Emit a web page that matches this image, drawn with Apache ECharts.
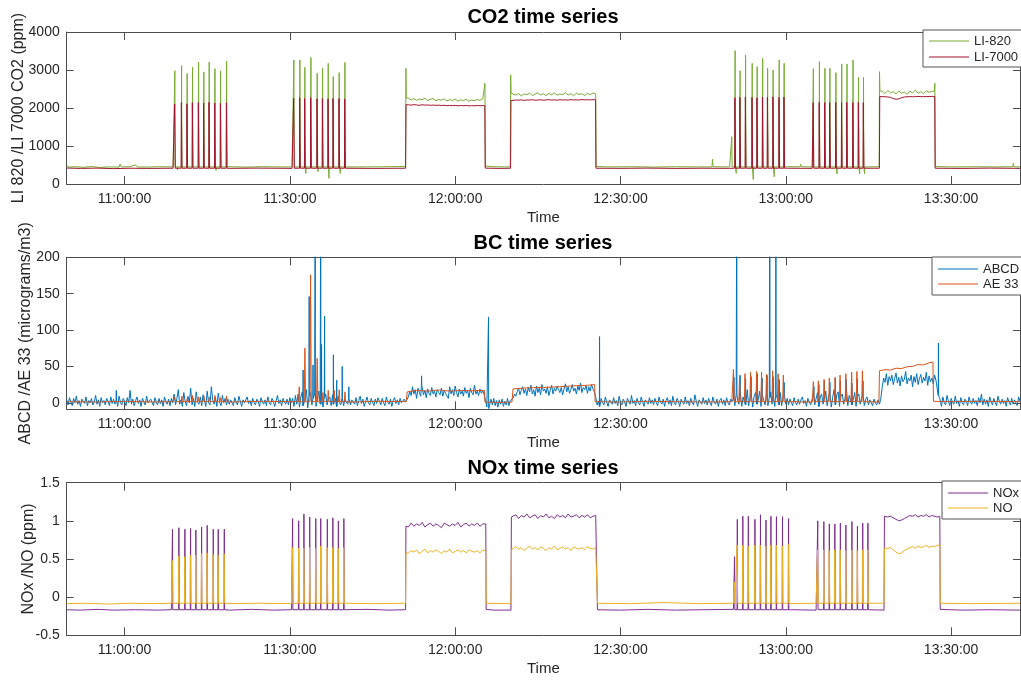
<!DOCTYPE html>
<html><head><meta charset="utf-8">
<script src="https://cdn.jsdelivr.net/npm/echarts@6/dist/echarts.min.js"></script>
<style>html,body{margin:0;padding:0;background:#fff}#c{width:1021px;height:681px}</style>
</head><body><div id="c"></div>
<script>
// ---------------- DATA (time = minutes since midnight) ----------------
const timeTicks = [660, 690, 720, 750, 780, 810];
const co2Ticks = [0, 1000, 2000, 3000, 4000];
const bcTicks = [0, 50, 100, 150, 200];
const noxTicks = [-0.5, 0, 0.5, 1, 1.5];

// CO2 -- LI-820 (green) baseline & small bumps
const li820Base = [[649.5,480],[650,445],[651,455],[652.5,440],[654,460],[655.5,435],[657,450],[659,445],[659.2,525],[659.4,450],[661,455],[662,505],[662.3,450],[664,445],[666,455],[668.8,450],[679,455],[682,445],[685,455],[688,450],[690.4,450],[700.4,455],[704,450],[707,455],[711,460],
  [711.06,3045],[711.12,2260],[725.3,2230],[725.4,2650],[725.47,470],[727,455],[729,450],[730,455],[730.07,2870],[730.14,2390],[745.5,2370],[745.56,460],
  [748,450],[752,455],[756,445],[760,455],[764,450],[766.6,450],[766.7,650],[766.8,455],[769.8,450],[780.3,455],[782.6,455],[782.7,520],[782.8,455],[784.8,450],[794.5,455],[796.95,455],
  [797.0,2956],[797.08,2450],[806.95,2440],[807.05,2650],[807.12,460],[810,450],[814,455],[818,450],[821.2,455],[821.3,550],[821.4,455],[822.5,450]];
const li820Block1 = [2260,2210,2250,2200,2240,2215,2260,2195,2230,2250,2190,2225,2205,2240,2185,2220,2200,2235,2180,2215,2195,2230,2175,2210,2190,2225,2200,2240];
const li820Block2 = [2400,2340,2380,2320,2370,2350,2390,2330,2360,2400,2340,2375,2325,2385,2345,2395,2335,2370,2350,2405,2340,2380,2320,2390,2355,2375,2330,2385,2350,2395];
const li820Block3 = [2440,2380,2460,2400,2430,2370,2450,2390,2420,2360,2440,2400,2470,2390,2430,2380,2450,2410,2440];
const li820Dips = [[669.6,370],[676.6,360],[692.9,280],[695.1,325],[697.1,150],[699.15,280],[771.0,280],[774.1,120],[777.9,190],[789.3,265],[793.4,265],[794.3,265]];
const li820Small = [[770.2,1245]];
const li820Foot = 450;

// CO2 -- LI-7000 (dark red)
const li7000Base = [[649.5,420],[652,410],[655,418],[658,405],[661,415],[664,410],[668.8,415],[679,412],[684,418],[690.4,412],[700.4,415],[705,410],[711,415],
  [711.08,2085],[725.38,2062],[725.45,418],[728,410],[730.05,415],[730.12,2200],[745.48,2218],[745.55,415],
  [750,412],[755,418],[760,410],[765,415],[769.8,412],[780.3,415],[784.8,412],[794.5,415],[796.98,415],
  [797.05,2300],[807.03,2305],[807.1,415],[812,410],[817,418],[822.5,412]];
const li7000Block1 = [2085,2075,2090,2080,2070,2085,2075,2080,2070,2078,2068,2075,2065,2072,2060,2070,2062,2068,2058,2065,2060,2068,2055,2062,2058,2065,2060,2063];
const li7000Block2 = [2200,2210,2205,2215,2200,2212,2208,2218,2205,2210,2215,2205,2212,2220,2208,2214,2206,2218,2210,2215,2208,2220,2212,2216,2210,2222,2214,2218,2212,2220];
const li7000Block3 = [2300,2295,2290,2280,2250,2230,2240,2270,2290,2295,2300,2295,2300,2305,2300,2298,2302,2300,2305];
const li7000Foot = 415;

// CO2 injection spikes (4 groups of 10)
const co2SpikeTimes = [
  [669.13,670.35,671.36,672.34,673.43,674.39,675.36,676.40,677.43,678.52],
  [690.73,691.82,692.72,693.82,694.96,695.94,696.96,697.87,698.95,699.99],
  [770.8,771.7,772.7,773.9,774.8,775.8,776.7,777.7,778.8,779.7],
  [785.0,786.1,787.1,788.0,789.1,790.15,791.1,792.2,793.2,794.1]];
const li820Peaks = [
  [2980,3120,2910,3070,3210,2950,3210,3035,2975,3235],
  [3265,3265,3070,3330,2910,3045,3175,2825,2930,3200],
  [3510,2980,3395,3175,3090,3305,3045,3000,3265,3175],
  [3035,3220,3045,3045,2930,3160,3160,3265,2805,2805]];
const li7000Peaks = [
  [2105,2140,2110,2140,2140,2130,2150,2130,2120,2140],
  [2260,2270,2250,2270,2240,2250,2240,2250,2250,2240],
  [2270,2280,2290,2280,2270,2290,2280,2290,2280,2290],
  [2140,2150,2140,2140,2150,2140,2150,2140,2150,2140]];

// BC -- ABCD (blue), sampled every 0.25 min, by segment
const abcdPre = [4,-3,7,1,-4,6,0,9,-2,3,-5,5,2,-1,8,-4,3,0,6,-3,
  1,10,-2,4,-5,7,0,3,-3,6,2,-4,8,-1,5,-2,4,-5,9,1,
  -3,6,2,-4,7,0,17,-2,5,-4,3,8,-1,4,-5,6,1,-3,9,0,
  -2,5,3,-4,7,1,-3,6,-1,4,-5,8,2,-2,5,-4,6,0];
const abcdG1 = [12,-3,6,18,-2,4,-5,14,2,-4,9,0,20,-3,6,-5,15,1,-2,8,
  -4,11,3,-5,16,0,-3,22,4,-2,7,-5,13,1,-4,10,0,6,-3,5,-2,4];
const abcdMid1 = [5,-4,7,1,-3,9,2,-5,4,0,-2,8,-1,3,-4,6,0,-3,5,2,
  -5,7,1,-2,4,-4,8,0,-3,6,2,-5,3,10,-1,4,-4,6,1,-2,5,-3,7,0];
const abcdG2 = [6,-5,10,-2,12,-6,8,15,-4,5,18,-7,9,14,-3,6,12,-5,4,16,
  -2,10,-6,7,12,-3,5,8,-4,11,-2,6,-5,9,0,-3,7,-4,5,1,-2,6,-3,4];
const abcdMid2 = [4,-2,7,-4,3,9,-1,5,-5,2,8,0,-3,6,1,-4,5,-1,7,2,
  -3,6,0,-4,8,1,-2,5,-5,3,7,-1,4,-3,6,0,-2,5,1,3];
const abcdBlock1 = [8,16,10,22,12,18,6,20,14,9,24,11,17,7,19,13,10,21,12,16,
  8,18,14,11,20,9,17,13,15,6,22,12,18,10,23,14,8,19,12,16,
  9,21,13,17,7,20,14,11,24,12,16,10,19,13,17,11];
const abcdGap1 = [4,-6,-8,-9,5,-3,6,-4,3,-6,4,-2,5,-5,2,-3,6,-4,3,1];
const abcdBlock2 = [6,12,9,15,20,11,17,22,13,19,10,21,15,24,12,18,9,23,14,20,
  11,25,16,19,13,22,10,17,24,12,20,16,23,18,14,21,11,19,26,15,
  22,13,18,25,16,20,12,23,17,27,14,21,18,24,13,22,16,25,19,15];
const abcdMid3 = [8,-3,2,-5,6,0,-3,8,1,-5,4,2,-2,7,-1,3,-4,9,0,-3,
  5,1,-5,6,2,-2,10,-1,3,-4,6,0,-3,8,2,-5,4,1,-2,7,
  -1,4,-3,6,0,-4,8,1,-2,5,-5,3,7,-2,4,-4,9,0,-3,6,
  2,-5,5,1,-2,8,-1,3,-4,6,0,-3,11,2,-5,4,1,-2,7,-1,
  4,-3,6,0,-4,8,1,-2,5,-5,3,6,-2,4,-4,7,0,-3,5,2];
const abcdG3 = [5,-4,12,3,-2,15,-5,8,10,-3,18,-4,6,12,-6,9,14,-2,5,16,
  -5,11,3,-3,13,-4,7,15,-2,10,-5,12,4,-3,14,-4,8,11,-2,6,-3,5];
const abcdMid4 = [3,-4,7,0,-3,5,-2,4,8,-1,3,-5,6,1,-3,4];
const abcdG4 = [10,-3,6,14,-5,8,12,-2,5,16,-4,9,13,-6,7,18,-3,11,15,-5,
  8,12,-2,6,17,-4,10,11,-3,5,14,-5,9,12,-2,6,10,-4,5,8,-3,4];
const abcdMid5 = [2,-4,5,0,-3,4,-2,6];
const abcdBlock3 = [22,34,28,40,24,36,30,38,25,33,41,27,35,23,37,29,32,43,26,34,
  30,38,22,36,28,40,25,33,39,27,35,30,42,24,37,29,34,26,38,31,33];
const abcdPost = [10,4,-5,8,0,-3,10,2,-4,6,1,-2,9,-1,3,-5,7,0,-3,5,
  2,-4,8,1,-2,6,-1,3,-4,7,0,12,-3,5,-2,4,-5,8,1,-3,
  6,0,-4,9,2,-2,5,-1,3,-5,7,1,-3,6,-2,4,0,-4,8,2];
const abcdSegStarts = [649.5,669,679.5,690.5,701.5,711.5,725.5,730.5,745.5,770.5,781,785,795.5,797.5,807.75];
const abcdSpikes = [[658.5,17],[692.4,45],[693.5,146],[694.2,52],[694.6,330],[695.6,330],[695.75,80],[696.3,119],[697.9,66],[698.5,31],[699.5,50],[700.7,22],
  [713.9,37],[726.05,118],[746.2,91],
  [770.6,35],[771.1,330],[771.7,38],[772.7,33],[773.7,36],[774.8,40],[775.7,34],[776.6,38],[777.1,330],[777.7,36],[778.2,330],[778.8,32],[779.7,28],
  [785.1,22],[786.0,25],[787.0,30],[788.0,28],[789.0,34],[789.9,30],[791.0,32],[792.0,27],[793.0,33],[794.0,30],[807.7,82]];

// BC -- AE 33 (orange)
const ae33Base = [[649.5,1.5],[655,1],[660,2],[665,1],[668.8,1.5],[679,1],[685,2],[690,1.5],[701,1],[706,2],[711.1,1.5],
  [711.3,15],[713,17],[715,16],[717,17.5],[719,16],[721,17],[723,16.5],[725.3,17],[725.4,1],[728,0.5],[730.3,1],
  [730.5,19],[733,20.5],[736,21],[739,22],[742,23.5],[744,24],[745.3,25],[745.4,1.5],
  [750,1],[755,2],[760,1.5],[765,1],[770.2,1.5],[781,1.5],[784.8,1],[795,1.5],[796.9,1],
  [797.0,44],[798,45.5],[799,45],[800,47.5],[801,47],[802,49.5],[803,50],[804,52.5],[805,52],[806,55],[806.7,56],[806.8,2],
  [810,1.5],[815,2],[822.5,1.5]];
const ae33Spikes = [[669.1,8],[670.4,9],[671.4,7],[672.3,10],[673.4,8],[674.4,9],[675.4,8],[676.4,10],[677.4,7],[678.5,9],
  [691.7,22],[692.73,75],[693.76,176],[694.96,61],[696.0,14],[696.96,17],[698.05,17],[698.96,18],[700.0,15],
  [770.5,46],[771.6,36],[772.6,40],[773.6,42],[774.7,43],[775.6,42],[776.5,39],[777.6,44],[778.6,40],[779.55,38],
  [785.0,29],[785.9,30],[786.95,32],[787.9,34],[788.95,35],[789.85,38],[790.9,40],[791.95,42],[792.9,43],[793.9,44]];
const ae33Foot = 1.5;

// NOx (purple)
const noxBase = [[649.5,-0.165],[652,-0.17],[655,-0.16],[658,-0.17],[662,-0.165],[666,-0.17],[668.5,-0.165],[679,-0.17],[683,-0.16],[687,-0.17],[690.3,-0.165],[700.2,-0.17],[704,-0.16],[708,-0.17],[711.0,-0.165],
  [711.06,0.93],[725.55,0.96],[725.62,-0.16],[727,-0.17],[730.12,-0.17],[730.2,1.05],[745.75,1.07],[745.82,-0.165],
  [750,-0.17],[755,-0.16],[760,-0.17],[765,-0.165],[770.5,-0.16],[781,-0.165],[785.5,-0.17],[795.3,-0.165],[797.82,-0.17],
  [797.9,1.06],[807.95,1.06],[808.02,-0.16],[812,-0.17],[817,-0.165],[822.5,-0.17]];
const noxBlock1 = [0.92,0.97,0.93,0.96,0.94,0.98,0.92,0.95,0.97,0.93,0.96,0.94,0.91,0.97,0.95,0.93,0.96,0.94,0.98,0.92,0.95,0.97,0.93,0.96,0.94,0.97,0.93,0.96];
const noxBlock2 = [1.04,1.08,1.03,1.07,1.05,1.09,1.04,1.06,1.08,1.03,1.07,1.05,1.09,1.04,1.06,1.03,1.08,1.05,1.07,1.04,1.09,1.05,1.06,1.08,1.04,1.07,1.05,1.08,1.04,1.06,1.07];
const noxBlock3 = [1.07,1.05,1.06,1.04,1.02,1.00,1.01,1.03,1.05,1.07,1.06,1.08,1.05,1.07,1.06,1.08,1.05,1.07,1.06,1.05];
const noxFoot = -0.165;

// NO (yellow)
const noBase = [[649.5,-0.085],[653,-0.08],[657,-0.09],[661,-0.08],[665,-0.085],[668.5,-0.08],[679,-0.085],[684,-0.08],[690.3,-0.085],[700.2,-0.08],[705,-0.085],[711.0,-0.08],
  [711.06,0.58],[725.55,0.60],[725.62,-0.08],[730.12,-0.085],[730.2,0.62],[745.75,0.64],[745.82,-0.08],
  [752,-0.085],[758,-0.07],[764,-0.085],[770.5,-0.08],[781,-0.085],[785.5,-0.08],[795.3,-0.085],[797.82,-0.08],
  [797.9,0.64],[807.95,0.68],[808.02,-0.08],[814,-0.085],[822.5,-0.08]];
const noBlock1 = [0.58,0.61,0.59,0.62,0.57,0.60,0.63,0.58,0.61,0.59,0.62,0.60,0.57,0.61,0.59,0.63,0.58,0.60,0.62,0.59,0.61,0.58,0.62,0.60,0.59,0.61,0.58,0.62];
const noBlock2 = [0.62,0.66,0.63,0.65,0.61,0.64,0.67,0.63,0.65,0.62,0.66,0.64,0.61,0.65,0.63,0.67,0.62,0.64,0.66,0.63,0.65,0.61,0.66,0.64,0.63,0.65,0.62,0.66,0.64,0.63,0.65];
const noBlock3 = [0.66,0.64,0.65,0.62,0.59,0.57,0.58,0.61,0.63,0.65,0.66,0.64,0.67,0.65,0.66,0.68,0.65,0.67,0.66,0.68];
const noFoot = -0.08;

const noxSpikeTimes = [
  [668.7,669.86,670.95,671.98,672.94,673.98,675.0,676.1,677.0,678.1],
  [690.5,691.6,692.55,693.6,694.7,695.6,696.8,697.8,698.8,699.8],
  [770.7,771.2,772.2,773.2,774.4,775.4,776.4,777.3,778.3,779.4,780.5],
  [785.8,786.9,787.9,788.9,789.9,790.9,792.0,793.0,793.96,794.9]];
const noxPeaks = [
  [0.89,0.91,0.89,0.90,0.88,0.92,0.94,0.89,0.89,0.89],
  [1.03,1.00,1.09,1.05,1.03,1.03,1.02,1.04,1.00,1.03],
  [0.53,1.02,1.06,1.06,1.02,1.08,1.01,1.06,1.055,1.055,1.03],
  [1.00,0.99,0.96,0.96,0.97,0.946,0.99,0.93,0.97,0.97]];
const noPeaks = [
  [0.48,0.54,0.53,0.55,0.55,0.57,0.58,0.56,0.55,0.57],
  [0.65,0.64,0.64,0.65,0.64,0.67,0.65,0.65,0.64,0.65],
  [0.20,0.68,0.68,0.67,0.68,0.68,0.67,0.68,0.68,0.67,0.69],
  [0.62,0.62,0.61,0.62,0.62,0.61,0.62,0.61,0.62,0.62]];

// ---------------- BUILDERS ----------------
function seq(t0, step, vals) { return vals.map((v, i) => [+(t0 + i * step).toFixed(3), v]); }
function spikes(pairs, foot, w) { const o = []; pairs.forEach(([t, p]) => { const f = typeof foot === 'function' ? foot(t) : foot; o.push([t - w, f], [t, p], [t + w, f]); }); return o; }
function flatPulses(pairs, foot, w) { const o = []; pairs.forEach(([t, p]) => { o.push([t - w, foot], [t - w / 2, p], [t + w / 2, p], [t + w, foot]); }); return o; }
function zipGroups(times, peaks) { const o = []; times.forEach((g, gi) => g.forEach((t, i) => o.push([t, peaks[gi][i]]))); return o; }
function build(...parts) { return [].concat(...parts).sort((a, b) => a[0] - b[0]); }

const li820Data = build(li820Base, seq(711.5, 0.5, li820Block1), seq(730.5, 0.5, li820Block2), seq(797.5, 0.5, li820Block3),
  spikes(zipGroups(co2SpikeTimes, li820Peaks), li820Foot, 0.05), spikes(li820Dips, li820Foot, 0.03), spikes(li820Small, li820Foot, 0.05));
const li7000Data = build(li7000Base, seq(711.5, 0.5, li7000Block1), seq(730.5, 0.5, li7000Block2), seq(797.5, 0.5, li7000Block3),
  flatPulses(zipGroups(co2SpikeTimes, li7000Peaks), li7000Foot, 0.08));

const abcdSegs = [abcdPre, abcdG1, abcdMid1, abcdG2, abcdMid2, abcdBlock1, abcdGap1, abcdBlock2, abcdMid3, abcdG3, abcdMid4, abcdG4, abcdMid5, abcdBlock3, abcdPost];
const abcdSamples = build(...abcdSegs.map((s, i) => seq(abcdSegStarts[i], 0.25, s)));
function abcdFootAt(t) { let best = abcdSamples[0]; for (const p of abcdSamples) { if (Math.abs(p[0] - t) < Math.abs(best[0] - t)) best = p; } return best[1]; }
const abcdData = build(abcdSamples, spikes(abcdSpikes, abcdFootAt, 0.03));
const ae33Data = build(ae33Base, spikes(ae33Spikes, ae33Foot, 0.12));

const noxData = build(noxBase, seq(711.5, 0.5, noxBlock1), seq(730.5, 0.5, noxBlock2), seq(798, 0.5, noxBlock3),
  spikes(zipGroups(noxSpikeTimes, noxPeaks), noxFoot, 0.05));
const noData = build(noBase, seq(711.5, 0.5, noBlock1), seq(730.5, 0.5, noBlock2), seq(798, 0.5, noBlock3),
  flatPulses(zipGroups(noxSpikeTimes, noPeaks), noFoot, 0.07));

// ---------------- CHART ----------------
const FONT = "'Liberation Sans', Arial, Helvetica, sans-serif";
const AX = '#4d4d4d', TXT = '#262626';
const X_MIN = 649.5, X_MAX = 822.5;
function clock(v) { const h = Math.floor(v / 60), m = Math.round(v - h * 60); return h + ':' + String(m).padStart(2, '0') + ':00'; }
function plain(v) { return String(v); }

const grids = [
  { left: 66.7, top: 32, width: 953.3, height: 152 },
  { left: 66.7, top: 257.3, width: 953.3, height: 152 },
  { left: 66.7, top: 482.7, width: 953.3, height: 152.6 }
];
const yDefs = [
  { min: 0, max: 4000, ticks: co2Ticks, name: 'LI 820 /LI 7000 CO2 (ppm)', gap: 40 },
  { min: -9, max: 200, ticks: bcTicks, name: 'ABCD /AE 33 (micrograms/m3)', gap: 33 },
  { min: -0.5, max: 1.5, ticks: noxTicks, name: 'NOx /NO (ppm)', gap: 30 }
];
const xAxes = [], yAxes = [];
grids.forEach((g, i) => {
  xAxes.push({ type: 'value', gridIndex: i, min: X_MIN, max: X_MAX, position: 'bottom',
    axisLine: { show: true, onZero: false, lineStyle: { color: AX, width: 1 } },
    axisTick: { show: true, inside: true, length: 8, customValues: timeTicks, lineStyle: { color: AX } },
    axisLabel: { show: true, customValues: timeTicks, formatter: clock, color: TXT, fontSize: 14, fontFamily: FONT, margin: 8 },
    splitLine: { show: false },
    name: 'Time', nameLocation: 'middle', nameGap: 26, nameMoveOverlap: false,
    nameTextStyle: { fontSize: 15, color: TXT, fontFamily: FONT } });
  xAxes.push({ type: 'value', gridIndex: i, min: X_MIN, max: X_MAX, position: 'top',
    axisLine: { show: true, onZero: false, lineStyle: { color: AX, width: 1 } },
    axisTick: { show: true, inside: true, length: 8, customValues: timeTicks, lineStyle: { color: AX } },
    axisLabel: { show: false }, splitLine: { show: false } });
  const d = yDefs[i];
  yAxes.push({ type: 'value', gridIndex: i, min: d.min, max: d.max, position: 'left',
    axisLine: { show: true, onZero: false, lineStyle: { color: AX, width: 1 } },
    axisTick: { show: true, inside: true, length: 7, customValues: d.ticks, lineStyle: { color: AX } },
    axisLabel: { show: true, customValues: d.ticks, formatter: plain, color: TXT, fontSize: 14, fontFamily: FONT, margin: 7 },
    splitLine: { show: false },
    name: d.name, nameLocation: 'middle', nameGap: d.gap, nameMoveOverlap: false,
    nameTextStyle: { fontSize: 16, color: TXT, fontFamily: FONT } });
  yAxes.push({ type: 'value', gridIndex: i, min: d.min, max: d.max, position: 'right',
    axisLine: { show: true, onZero: false, lineStyle: { color: AX, width: 1 } },
    axisTick: { show: true, inside: true, length: 7, customValues: d.ticks, lineStyle: { color: AX } },
    axisLabel: { show: false }, splitLine: { show: false } });
});

function line(name, data, gi, color) {
  return { name, type: 'line', data, xAxisIndex: gi * 2, yAxisIndex: gi * 2, showSymbol: false, symbol: 'none',
    color, itemStyle: { color }, lineStyle: { color, width: 1 }, animation: false, clip: true, silent: true };
}
const legendBase = { orient: 'vertical', icon: 'rect', itemWidth: 40, itemHeight: 1, selectedMode: false,
  itemStyle: { borderWidth: 0 },
  borderColor: '#555', borderWidth: 1, backgroundColor: '#fff', borderRadius: 0,
  textStyle: { fontSize: 13, color: TXT, fontFamily: FONT, lineHeight: 14 } };

const chart = echarts.init(document.getElementById('c'), null, { renderer: 'canvas' });
chart.setOption({
  backgroundColor: '#fff',
  animation: false,
  title: [
    { text: 'CO2 time series', left: 543, top: 7, textAlign: 'center', padding: 0, textStyle: { fontSize: 20, fontWeight: 'bold', color: '#000', fontFamily: FONT } },
    { text: 'BC time series', left: 543, top: 233, textAlign: 'center', padding: 0, textStyle: { fontSize: 20, fontWeight: 'bold', color: '#000', fontFamily: FONT } },
    { text: 'NOx time series', left: 543, top: 458, textAlign: 'center', padding: 0, textStyle: { fontSize: 20, fontWeight: 'bold', color: '#000', fontFamily: FONT } }
  ],
  legend: [
    Object.assign({}, legendBase, { data: ['LI-820', 'LI-7000'], left: 923, top: 30, itemGap: 2, padding: [4, 6, 3, 6] }),
    Object.assign({}, legendBase, { data: ['ABCD', 'AE 33'], left: 932, top: 257, itemGap: 1, padding: [5, 6, 4, 6] }),
    Object.assign({}, legendBase, { data: ['NOx', 'NO'], left: 942, top: 481, itemGap: 1, padding: [5, 6, 4, 6] })
  ],
  grid: grids.map(g => Object.assign({ show: false, containLabel: false }, g)),
  xAxis: xAxes,
  yAxis: yAxes,
  series: [
    line('LI-820', li820Data, 0, '#77AC30'),
    line('LI-7000', li7000Data, 0, '#A2142F'),
    line('ABCD', abcdData, 1, '#0072BD'),
    line('AE 33', ae33Data, 1, '#D95319'),
    line('NOx', noxData, 2, '#7E2F8E'),
    line('NO', noData, 2, '#EDB120')
  ]
});
</script></body></html>
